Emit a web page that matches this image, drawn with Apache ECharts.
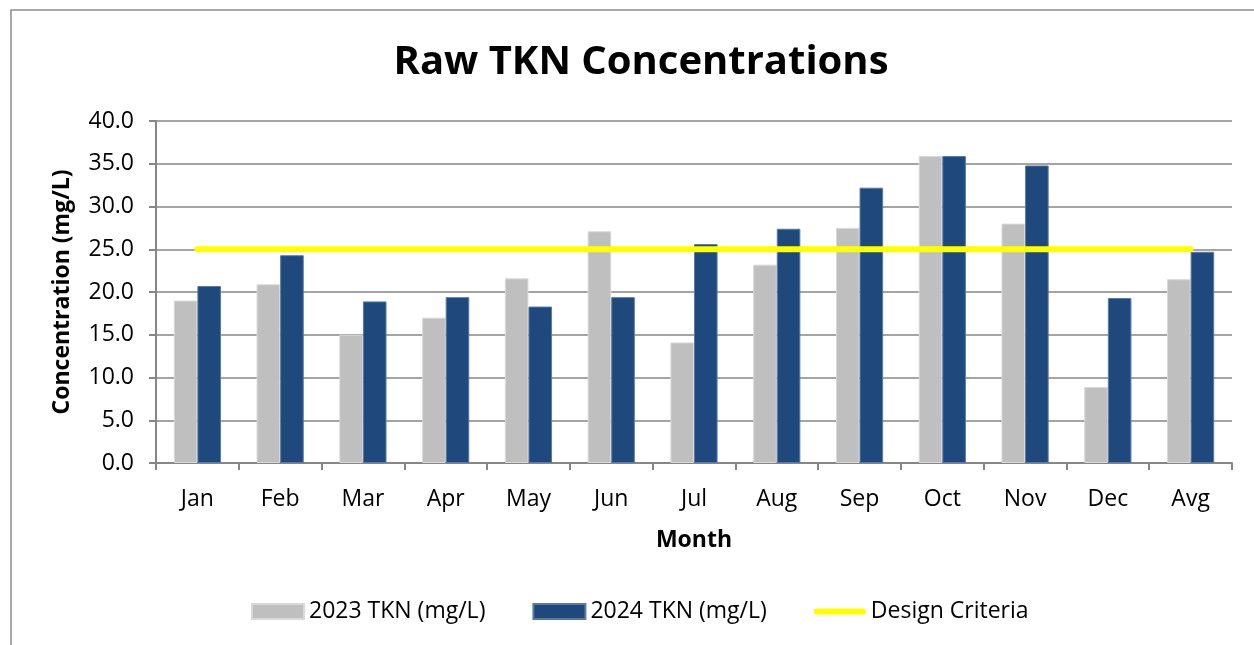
<!DOCTYPE html>
<html>
<head>
<meta charset="utf-8">
<script src="https://cdn.jsdelivr.net/npm/echarts@6/dist/echarts.min.js"></script>
<style>
html,body{margin:0;padding:0;background:#fff;}
#chart{width:1254px;height:645px;}
</style>
</head>
<body>
<div id="chart"></div>
<script>
const categories = ['Jan','Feb','Mar','Apr','May','Jun','Jul','Aug','Sep','Oct','Nov','Dec','Avg'];
const tkn2023 = [19.0, 20.9, 15.0, 17.0, 21.6, 27.1, 14.1, 23.2, 27.5, 35.9, 28.0, 8.9, 21.5];
const tkn2024 = [20.7, 24.3, 18.9, 19.4, 18.3, 19.4, 25.6, 27.4, 32.2, 35.9, 34.8, 19.3, 24.7];
const designCriteria = [25, 25, 25, 25, 25, 25, 25, 25, 25, 25, 25, 25, 25];
const seriesNames = ['2023 TKN (mg/L)', '2024 TKN (mg/L)', 'Design Criteria'];

const FONT = 'Open Sans';
const chart = echarts.init(document.getElementById('chart'), null, {renderer: 'canvas'});
chart.setOption({
  animation: false,
  backgroundColor: '#ffffff',
  textStyle: {fontFamily: FONT, color: '#000'},
  graphic: [{
    type: 'rect',
    shape: {x: 11, y: 10, width: 1400, height: 800},
    style: {fill: 'none', stroke: '#8c8c8c', lineWidth: 1.5},
    silent: true
  }],
  title: {
    text: 'Raw TKN Concentrations',
    left: 636, textAlign: 'center',
    top: 38,
    textStyle: {fontFamily: FONT, fontWeight: 'bold', fontSize: 40, color: '#000'}
  },
  legend: {
    left: 246, top: 595,
    itemWidth: 52, itemHeight: 15, itemGap: 47,
    textStyle: {fontFamily: FONT, fontSize: 23, color: '#000'},
    data: [
      {name: seriesNames[0], icon: 'rect'},
      {name: seriesNames[1], icon: 'rect'},
      {name: seriesNames[2],
       icon: 'path://M0,0 M52,15 M3,4.5 L49,4.5 A3,3 0 0 1 49,10.5 L3,10.5 A3,3 0 0 1 3,4.5 Z',
       itemStyle: {color: '#FFFF00', borderWidth: 0}}
    ]
  },
  grid: {left: 156, right: 22, top: 121, bottom: 182, containLabel: false},
  xAxis: {
    type: 'category',
    data: categories,
    boundaryGap: true,
    name: 'Month',
    nameLocation: 'middle',
    nameGap: 66,
    nameTextStyle: {fontFamily: FONT, fontWeight: 'bold', fontSize: 23, color: '#000'},
    axisLine: {lineStyle: {color: '#868686', width: 2}},
    axisTick: {show: true, alignWithLabel: false, length: 7, lineStyle: {color: '#868686', width: 2}},
    axisLabel: {fontFamily: FONT, fontSize: 23, color: '#000', margin: 25, interval: 0}
  },
  yAxis: {
    type: 'value',
    min: 0, max: 40, interval: 5,
    name: 'Concentration (mg/L)',
    nameLocation: 'middle',
    nameGap: 82,
    nameTextStyle: {fontFamily: FONT, fontWeight: 'bold', fontSize: 23, color: '#000'},
    axisLine: {show: true, lineStyle: {color: '#868686', width: 2}},
    axisTick: {show: true, length: 7, lineStyle: {color: '#868686', width: 2}},
    axisLabel: {fontFamily: FONT, fontSize: 23, color: '#000', margin: 22,
      formatter: v => v.toFixed(1)},
    splitLine: {show: true, lineStyle: {color: '#868686', width: 1.5}}
  },
  series: [
    {
      name: seriesNames[0], type: 'bar', data: tkn2023,
      barGap: '0%', barCategoryGap: '43%',
      itemStyle: {color: '#BFBFBF', borderColor: '#d9d9d9', borderWidth: 1},
      z: 2
    },
    {
      name: seriesNames[1], type: 'bar', data: tkn2024,
      barGap: '0%', barCategoryGap: '43%',
      itemStyle: {color: '#1F497D', borderColor: '#5b7aa3', borderWidth: 1},
      z: 2
    },
    {
      name: seriesNames[2], type: 'line', data: designCriteria,
      symbol: 'none', showSymbol: false,
      lineStyle: {color: '#FFFF00', width: 6, cap: 'round'},
      itemStyle: {color: '#FFFF00'},
      z: 5
    }
  ]
});
</script>
</body>
</html>
